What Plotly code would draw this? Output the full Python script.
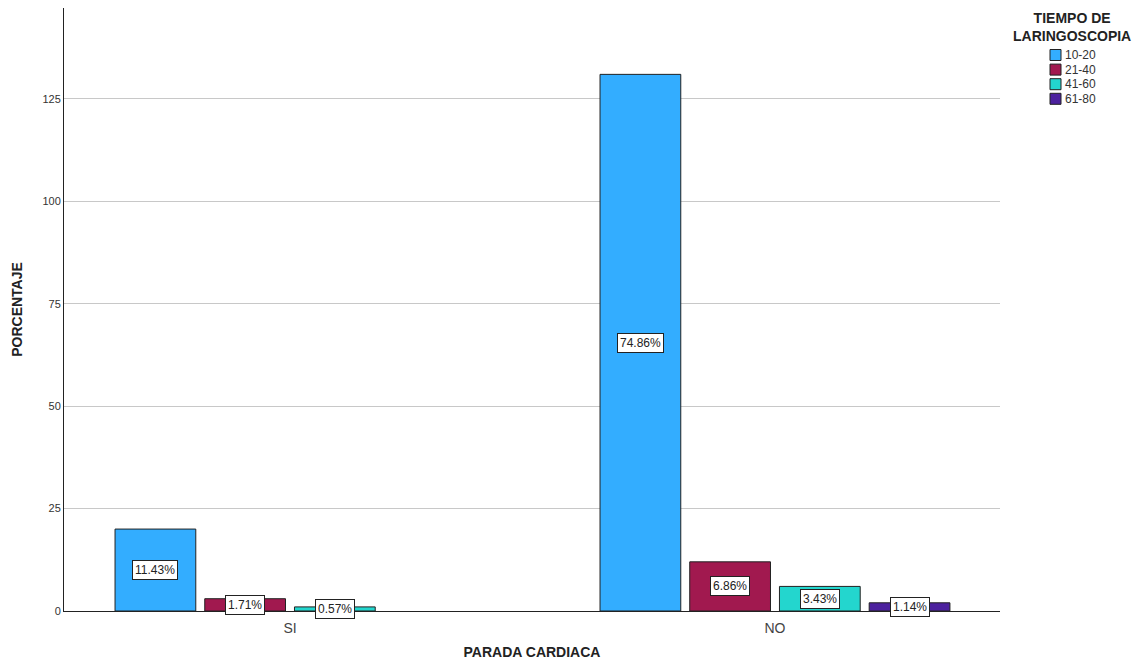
import plotly.graph_objects as go

categories = ["SI", "NO"]
groups = ["10-20", "21-40", "41-60", "61-80"]
counts = {
    "10-20": [20, 131],
    "21-40": [3, 12],
    "41-60": [1, 6],
    "61-80": [None, 2],
}
labels = {
    "10-20": ["11.43%", "74.86%"],
    "21-40": ["1.71%", "6.86%"],
    "41-60": ["0.57%", "3.43%"],
    "61-80": [None, "1.14%"],
}
colors = {
    "10-20": "#33ADFF",
    "21-40": "#A1194F",
    "41-60": "#23D6CE",
    "61-80": "#4C219E",
}
y_ticks = [0, 25, 50, 75, 100, 125]
legend_title = "<b>TIEMPO DE<br>LARINGOSCOPIA</b>"

W, H = 1144, 660
ML, MR, MT, MB = 64, 144, 8, 49
PW, PH = W - ML - MR, H - MT - MB
bargap = 0.26
fig = go.Figure()
for g in groups:
    fig.add_trace(go.Bar(
        x=categories, y=counts[g], name=g, showlegend=False,
        marker=dict(color=colors[g], line=dict(color="#222222", width=1)),
    ))

n = len(groups)
group_w = 1 - bargap
slot = group_w / n
annotations = []
shapes = []
for i, g in enumerate(groups):
    for ci, cat in enumerate(categories):
        v = counts[g][ci]
        if v is None:
            continue
        xpos = ci - group_w / 2 + slot * (i + 0.5)
        annotations.append(dict(
            x=xpos, y=v / 2, xref="x", yref="y", text=labels[g][ci],
            showarrow=False, font=dict(family="Arial", size=12, color="#222222"),
            bgcolor="white", bordercolor="#222222", borderwidth=1, borderpad=2,
        ))

# legend drawn in paper coordinates (relative to plot area)
def px(xp):
    return (xp - ML) / PW
def py(yp):
    return (H - MB - yp) / PH

annotations.append(dict(
    x=px(1072), y=py(27), xref="paper", yref="paper", text=legend_title,
    showarrow=False, xanchor="center", yanchor="middle", align="center",
    font=dict(family="Arial", size=14, color="#222222"),
))
row0, row_step = 55, 14.6
for i, g in enumerate(groups):
    yc = row0 + i * row_step
    shapes.append(dict(
        type="rect", xref="paper", yref="paper",
        x0=px(1050), x1=px(1061), y0=py(yc + 5.5), y1=py(yc - 5.5),
        fillcolor=colors[g], line=dict(color="#222222", width=1),
    ))
    annotations.append(dict(
        x=px(1063), y=py(yc), xref="paper", yref="paper", text=g,
        showarrow=False, xanchor="left", yanchor="middle",
        font=dict(family="Arial", size=12, color="#333333"),
    ))

fig.update_layout(
    width=W, height=H,
    margin=dict(l=ML, r=MR, t=MT, b=MB, autoexpand=False),
    paper_bgcolor="white", plot_bgcolor="white",
    barmode="group", bargap=bargap, bargroupgap=0.1,
    font=dict(family="Arial", color="#333333"),
    annotations=annotations, shapes=shapes,
    showlegend=False,
    xaxis=dict(
        type="category", range=[-0.466, 1.464],
        showline=True, linecolor="#222222", linewidth=1,
        ticks="", tickfont=dict(size=14, color="#444444"),
        ticklabelstandoff=4,
        title=dict(text="<b>PARADA CARDIACA</b>", font=dict(size=14, color="#222222"), standoff=12),
    ),
    yaxis=dict(
        range=[0, 147.2], tickvals=y_ticks,
        showgrid=True, gridcolor="#C8C8C8", gridwidth=1,
        showline=True, linecolor="#222222", linewidth=1,
        zeroline=False, ticks="", ticklen=0,
        tickfont=dict(size=11, color="#333333"),
        title=dict(text="<b>PORCENTAJE</b>", font=dict(size=14, color="#222222"), standoff=16),
    ),
)

fig.write_html("out.html")
